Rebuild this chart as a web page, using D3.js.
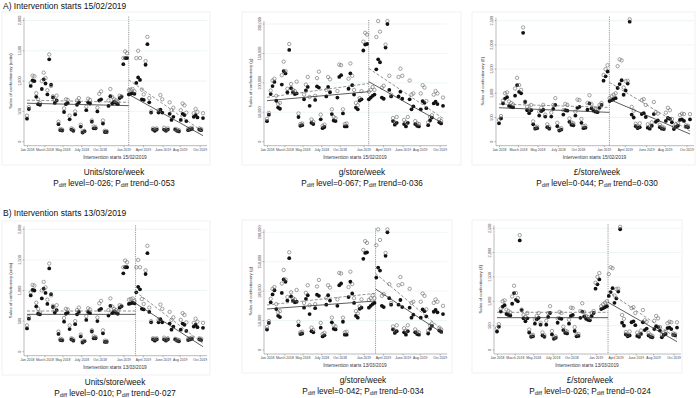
<!DOCTYPE html>
<html>
<head>
<meta charset="utf-8">
<script src="https://cdn.jsdelivr.net/npm/d3@7"></script>
<style>
  body { margin: 0; background: #fff; }
  text { font-family: "Liberation Sans", Arial, sans-serif; }
</style>
</head>
<body>
<svg id="chart" width="700" height="398"></svg>
<script>
// weekly sales per store, Jan 2018 - Oct 2019 (filled and hollow markers)
var unitsFilled = [380,540,920,1010,1000,740,620,610,870,1030,
  960,780,1360,940,730,640,680,290,190,185,
  490,620,640,370,200,180,450,610,650,250,
  150,170,520,650,630,330,220,220,500,680,
  700,300,160,160,590,750,630,660,640,620,
  720,740,1280,1380,1380,780,790,800,790,970,
  1060,1020,700,690,1270,1610,650,480,200,180,
  200,480,530,480,200,180,200,460,360,410,
  200,180,170,360,460,440,340,190,200,210,
  410,440,400,200,190,390];
var unitsHollow = [430,570,970,1090,1080,800,700,640,1000,1140,
  1050,850,1440,920,750,690,760,330,210,200,
  550,700,690,430,220,200,500,680,720,280,
  170,180,580,710,690,350,250,240,560,790,
  830,350,180,175,680,870,740,700,680,660,
  760,750,1380,1490,1460,850,860,870,830,1380,
  1500,1380,860,780,1330,1730,720,500,220,210,
  220,520,770,700,230,200,220,650,520,560,
  210,200,190,520,630,600,480,210,220,230,
  470,540,490,220,210,470];
var gramsFilled = [34800,46000,81000,94500,101500,69600,58000,56000,97000,120000,
  116000,84000,156000,91000,84000,81000,82000,42000,27000,28000,
  72000,87000,93000,61000,32000,30000,71000,94000,92000,38000,
  23000,25000,77000,93000,84000,47000,36000,35000,75000,110000,
  113000,48000,26000,26000,90000,116000,96000,80000,58000,55000,
  70000,72000,155000,165000,166000,72000,75000,78000,80000,123000,
  140000,135000,75000,73000,160000,200000,88000,77000,35000,29000,
  32000,77000,85000,73000,30000,26000,32000,72000,55000,60000,
  30000,27000,26000,55000,69000,66000,57000,28000,36000,41000,
  65000,68000,64000,33000,31000,61000];
var gramsHollow = [39000,49000,87000,104000,107000,78000,64000,66000,113000,136000,
  120000,90000,166000,98000,88000,86000,102000,48000,30000,31000,
  80000,97000,110000,76000,38000,34000,78000,108000,119000,46000,
  27000,29000,88000,110000,106000,55000,42000,40000,86000,131000,
  130000,55000,30000,31000,107000,133000,112000,88000,66000,62000,
  74000,86000,170000,185000,182000,85000,88000,93000,88000,178000,
  205000,187000,92000,95000,165000,205000,112000,80000,40000,33000,
  42000,110000,124000,112000,37000,33000,42000,104000,80000,82000,
  35000,31000,30000,82000,96000,92000,69000,33000,42000,45000,
  80000,86000,82000,38000,35000,75000];
var poundsFilled = [380,480,790,890,920,740,720,710,950,1170,
  1030,1000,2250,820,650,590,650,360,270,280,
  540,630,660,520,300,270,520,680,760,320,
  230,250,560,650,640,410,350,340,540,700,
  720,390,280,290,660,790,690,640,620,610,
  700,760,1260,1350,1450,840,860,880,900,1110,
  1190,1270,970,1060,1200,2480,560,500,320,280,
  300,570,590,510,290,270,330,570,410,440,
  300,270,260,430,490,470,400,260,310,330,
  450,460,430,310,300,460];
var poundsHollow = [450,530,850,1000,1020,830,800,770,1100,1320,
  1170,1070,2360,830,720,680,760,420,300,310,
  620,700,760,560,360,300,600,760,900,390,
  260,280,650,780,760,480,400,380,620,870,
  860,470,320,330,800,960,780,700,680,650,
  760,800,1380,1500,1580,900,940,970,1000,1560,
  1700,1680,1120,1250,1260,2530,720,640,370,310,
  380,860,880,760,360,320,400,820,610,580,
  350,310,290,600,700,650,470,310,360,380,
  550,580,570,340,330,570];

var tickWeeks = [0, 9.4, 19.1, 29.3, 39.2, 52.1, 62.6, 73.2, 82.4, 93.2];
var tickLabels = ["Jan 2018","March 2018","May 2018","July 2018","Oct 2018",
  "Jan 2019","April 2019","June 2019","Aug 2019","Oct 2019"];
var interventionWeek = [54.9, 58.6];

var rowTitles = ["A) Intervention starts 15/02/2019", "B) Intervention starts 13/03/2019"];
var xTitles = ["Intervention starts 15/02/2019", "Intervention starts 13/03/2019"];
var measureNames = ["Units/store/week", "g/store/week", "£/store/week"];
var yTitles = ["Sales of confectionery (units)", "Sales of confectionery (g)", "Sales of confectionery (£)"];
var yMax = [2000, 200000, 2500];
var yStep = [500, 50000, 500];
var pLevel = [["0·026", "0·067", "0·044"], ["0·010", "0·042", "0·026"]];
var pTrend = [["0·053", "0·036", "0·030"], ["0·027", "0·034", "0·024"]];

// fitted values [start, end]: pre solid, pre dashed, post solid, post dashed
var fitUnitsA = [[635, 595], [685, 650], [780, 100], [1020, 165]];
var fitUnitsB = [[610, 610], [665, 665], [790, 82], [980, 136]];
var fitGramsA = [[69700, 85000], [75400, 99000], [102000, 31000], [124600, 39700]];
var fitGramsB = [[69700, 83300], [76500, 96300], [103700, 28000], [130000, 33000]];
var fitPoundsA = [[702, 606], [778, 709], [875, 158], [1226, 220]];
var fitPoundsB = [[664, 664], [774, 774], [980, 171], [1199, 240]];

var filled = [unitsFilled, gramsFilled, poundsFilled];
var hollow = [unitsHollow, gramsHollow, poundsHollow];
var fits = [[fitUnitsA, fitGramsA, fitPoundsA], [fitUnitsB, fitGramsB, fitPoundsB]];

// panel layout in pixels
var layout = [
  [ {box: [2, 12, 210, 165], xr: [27, 203], yr: [141.7, 20.5], cx: 114},
    {box: [242, 12, 461, 165], xr: [267, 443], yr: [141.7, 24], cx: 362},
    {box: [472, 12, 695, 165], xr: [499, 690], yr: [141.7, 20.7], cx: 597} ],
  [ {box: [2, 221, 210, 375], xr: [27, 203], yr: [351.7, 229.3], cx: 115},
    {box: [242, 220, 452, 373], xr: [267, 443], yr: [350, 232.3], cx: 363},
    {box: [472, 220, 682, 373], xr: [497, 677], yr: [350, 228.3], cx: 590} ]
];
var titleY = [9, 216];

var svg = d3.select("#chart");
var nWeeks = unitsFilled.length;

rowTitles.forEach(function(t, r) {
  svg.append("text").attr("x", 3).attr("y", titleY[r])
    .attr("font-size", "8.5px").attr("fill", "#111").text(t);
});

function drawPanel(r, c) {
  var p = layout[r][c];
  var g = svg.append("g");

  g.append("rect")
    .attr("x", p.box[0]).attr("y", p.box[1])
    .attr("width", p.box[2] - p.box[0]).attr("height", p.box[3] - p.box[1])
    .attr("fill", "#fff").attr("stroke", "#e6e6e6").attr("stroke-width", 0.6);

  var x = d3.scaleLinear().domain([0, nWeeks - 1]).range(p.xr);
  var y = d3.scaleLinear().domain([0, yMax[c]]).range(p.yr);
  var yTicks = d3.range(0, yMax[c] + 1, yStep[c]);
  var axisX = p.xr[0] - 3;
  var right = p.xr[1] + 4;
  var bottom = p.yr[0] + 4;

  // grid
  g.selectAll(".grid").data(yTicks.slice(1)).enter().append("line")
    .attr("x1", axisX).attr("x2", right)
    .attr("y1", function(d) { return y(d); }).attr("y2", function(d) { return y(d); })
    .attr("stroke", "#e3eef1").attr("stroke-width", 0.6);

  // y axis
  var ya = g.append("g").attr("transform", "translate(" + axisX + ",0)")
    .call(d3.axisLeft(y).tickValues(yTicks).tickSize(1.5).tickPadding(1.5));
  ya.select(".domain").attr("stroke", "#777").attr("stroke-width", 0.5)
    .attr("d", "M0," + bottom + "V" + (p.yr[1] - 3));
  ya.selectAll(".tick line").attr("stroke", "#777").attr("stroke-width", 0.5);
  ya.selectAll(".tick text").attr("font-size", "3.8px").attr("fill", "#444")
    .attr("text-anchor", "middle").attr("x", -3.5).attr("dy", 0)
    .attr("transform", "rotate(-90)")
    .attr("x", function(d) { return -y(d); }).attr("y", -3.5);
  ya.selectAll(".tick").attr("transform", null);
  ya.selectAll(".tick line").attr("y1", function(d) { return y(d); }).attr("y2", function(d) { return y(d); });

  // x axis
  var xa = g.append("g").attr("transform", "translate(0," + bottom + ")")
    .call(d3.axisBottom(x).tickValues(tickWeeks)
      .tickFormat(function(d, i) { return tickLabels[i]; })
      .tickSize(1.5).tickPadding(1));
  xa.select(".domain").attr("stroke", "#777").attr("stroke-width", 0.5)
    .attr("d", "M" + axisX + ",0H" + right);
  xa.selectAll(".tick line").attr("stroke", "#777").attr("stroke-width", 0.5);
  xa.selectAll(".tick text").attr("font-size", "3.4px").attr("fill", "#444");

  g.append("text").attr("x", (p.xr[0] + p.xr[1]) / 2).attr("y", bottom + 13)
    .attr("text-anchor", "middle").attr("font-size", "4.8px").attr("fill", "#333")
    .text(xTitles[r]);
  g.append("text")
    .attr("transform", "translate(" + (axisX - 12) + "," + ((p.yr[0] + p.yr[1]) / 2) + ") rotate(-90)")
    .attr("text-anchor", "middle").attr("font-size", "4.3px").attr("fill", "#333")
    .text(yTitles[c]);

  // intervention line
  var iw = interventionWeek[r];
  g.append("line").attr("x1", x(iw)).attr("x2", x(iw))
    .attr("y1", p.yr[1] - 4).attr("y2", bottom)
    .attr("stroke", "#555").attr("stroke-width", 0.6).attr("stroke-dasharray", "1.2,1");

  // points
  var idx = d3.range(nWeeks);
  g.selectAll(".f").data(idx).enter().append("circle")
    .attr("cx", function(i) { return x(i); }).attr("cy", function(i) { return y(filled[c][i]); })
    .attr("r", 1.9).attr("fill", "#111");
  g.selectAll(".h").data(idx).enter().append("circle")
    .attr("cx", function(i) { return x(i); }).attr("cy", function(i) { return y(hollow[c][i]); })
    .attr("r", 1.7).attr("fill", "none").attr("stroke", "#666").attr("stroke-width", 0.6);

  // fitted lines
  var f = fits[r][c];
  var spans = [[0, iw], [0, iw], [iw, nWeeks - 1], [iw, nWeeks - 1]];
  f.forEach(function(v, k) {
    g.append("line")
      .attr("x1", x(spans[k][0])).attr("x2", x(spans[k][1]))
      .attr("y1", y(v[0])).attr("y2", y(v[1]))
      .attr("stroke", k % 2 === 0 ? "#333" : "#777")
      .attr("stroke-width", 0.8)
      .attr("stroke-dasharray", k % 2 === 0 ? null : "3,1.8");
  });

  // captions
  var capY = p.box[3] + 10;
  svg.append("text").attr("x", p.cx).attr("y", capY)
    .attr("text-anchor", "middle").attr("font-size", "8.2px").attr("fill", "#111")
    .text(measureNames[c]);
  var t = svg.append("text").attr("x", p.cx).attr("y", capY + 10.5)
    .attr("text-anchor", "middle").attr("font-size", "8.2px").attr("fill", "#111");
  t.append("tspan").text("P");
  t.append("tspan").attr("font-size", "5.5px").attr("dy", 1.5).text("diff");
  t.append("tspan").attr("dy", -1.5).text(" level=" + pLevel[r][c] + "; P");
  t.append("tspan").attr("font-size", "5.5px").attr("dy", 1.5).text("diff");
  t.append("tspan").attr("dy", -1.5).text(" trend=" + pTrend[r][c]);
}

for (var r = 0; r < 2; r++) {
  for (var c = 0; c < 3; c++) drawPanel(r, c);
}
</script>
</body>
</html>
